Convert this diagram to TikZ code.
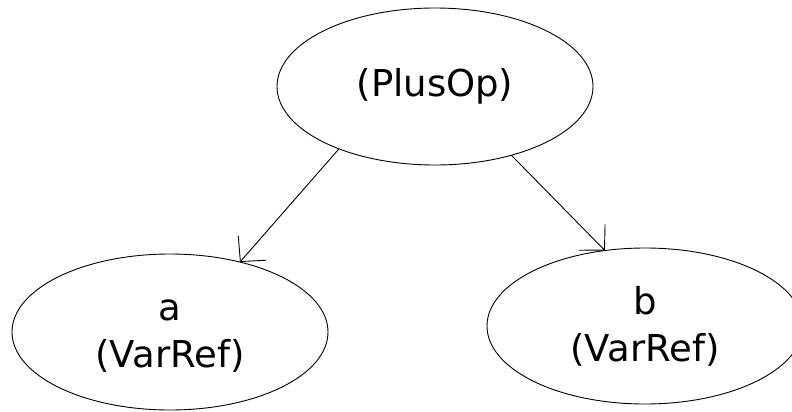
\documentclass[tikz,border=0pt]{standalone}
\usepackage{fontspec}
\setmainfont{DejaVu Sans}
\usetikzlibrary{shapes.geometric,arrows.meta}
\tikzset{
  treenode/.style={draw=black, ellipse, line width=0.9pt, inner sep=0pt, outer sep=0pt,
    minimum width=316pt, minimum height=156pt, align=center,
    font=\fontsize{37}{47}\selectfont},
  edgearrow/.style={draw=black, line width=0.9pt,
    -{Straight Barb[length=18pt,width=37pt,line width=0.9pt]}}
}
\begin{document}
\begin{tikzpicture}[x=1pt,y=-1pt]
  \useasboundingbox (0,0) rectangle (792,412);
  \node[treenode, minimum height=157pt] (plus) at (435,86.5) {(PlusOp)};
  \node[treenode] (a) at (170,332) {\vphantom{(}a\\(VarRef)};
  \node[treenode] (b) at (645,326) {\vphantom{(}b\\(VarRef)};
  \draw[edgearrow] (plus.213.3) -- (a.45.5);
  \draw[edgearrow] (plus.318.7) -- (b.118);
\end{tikzpicture}
\end{document}
